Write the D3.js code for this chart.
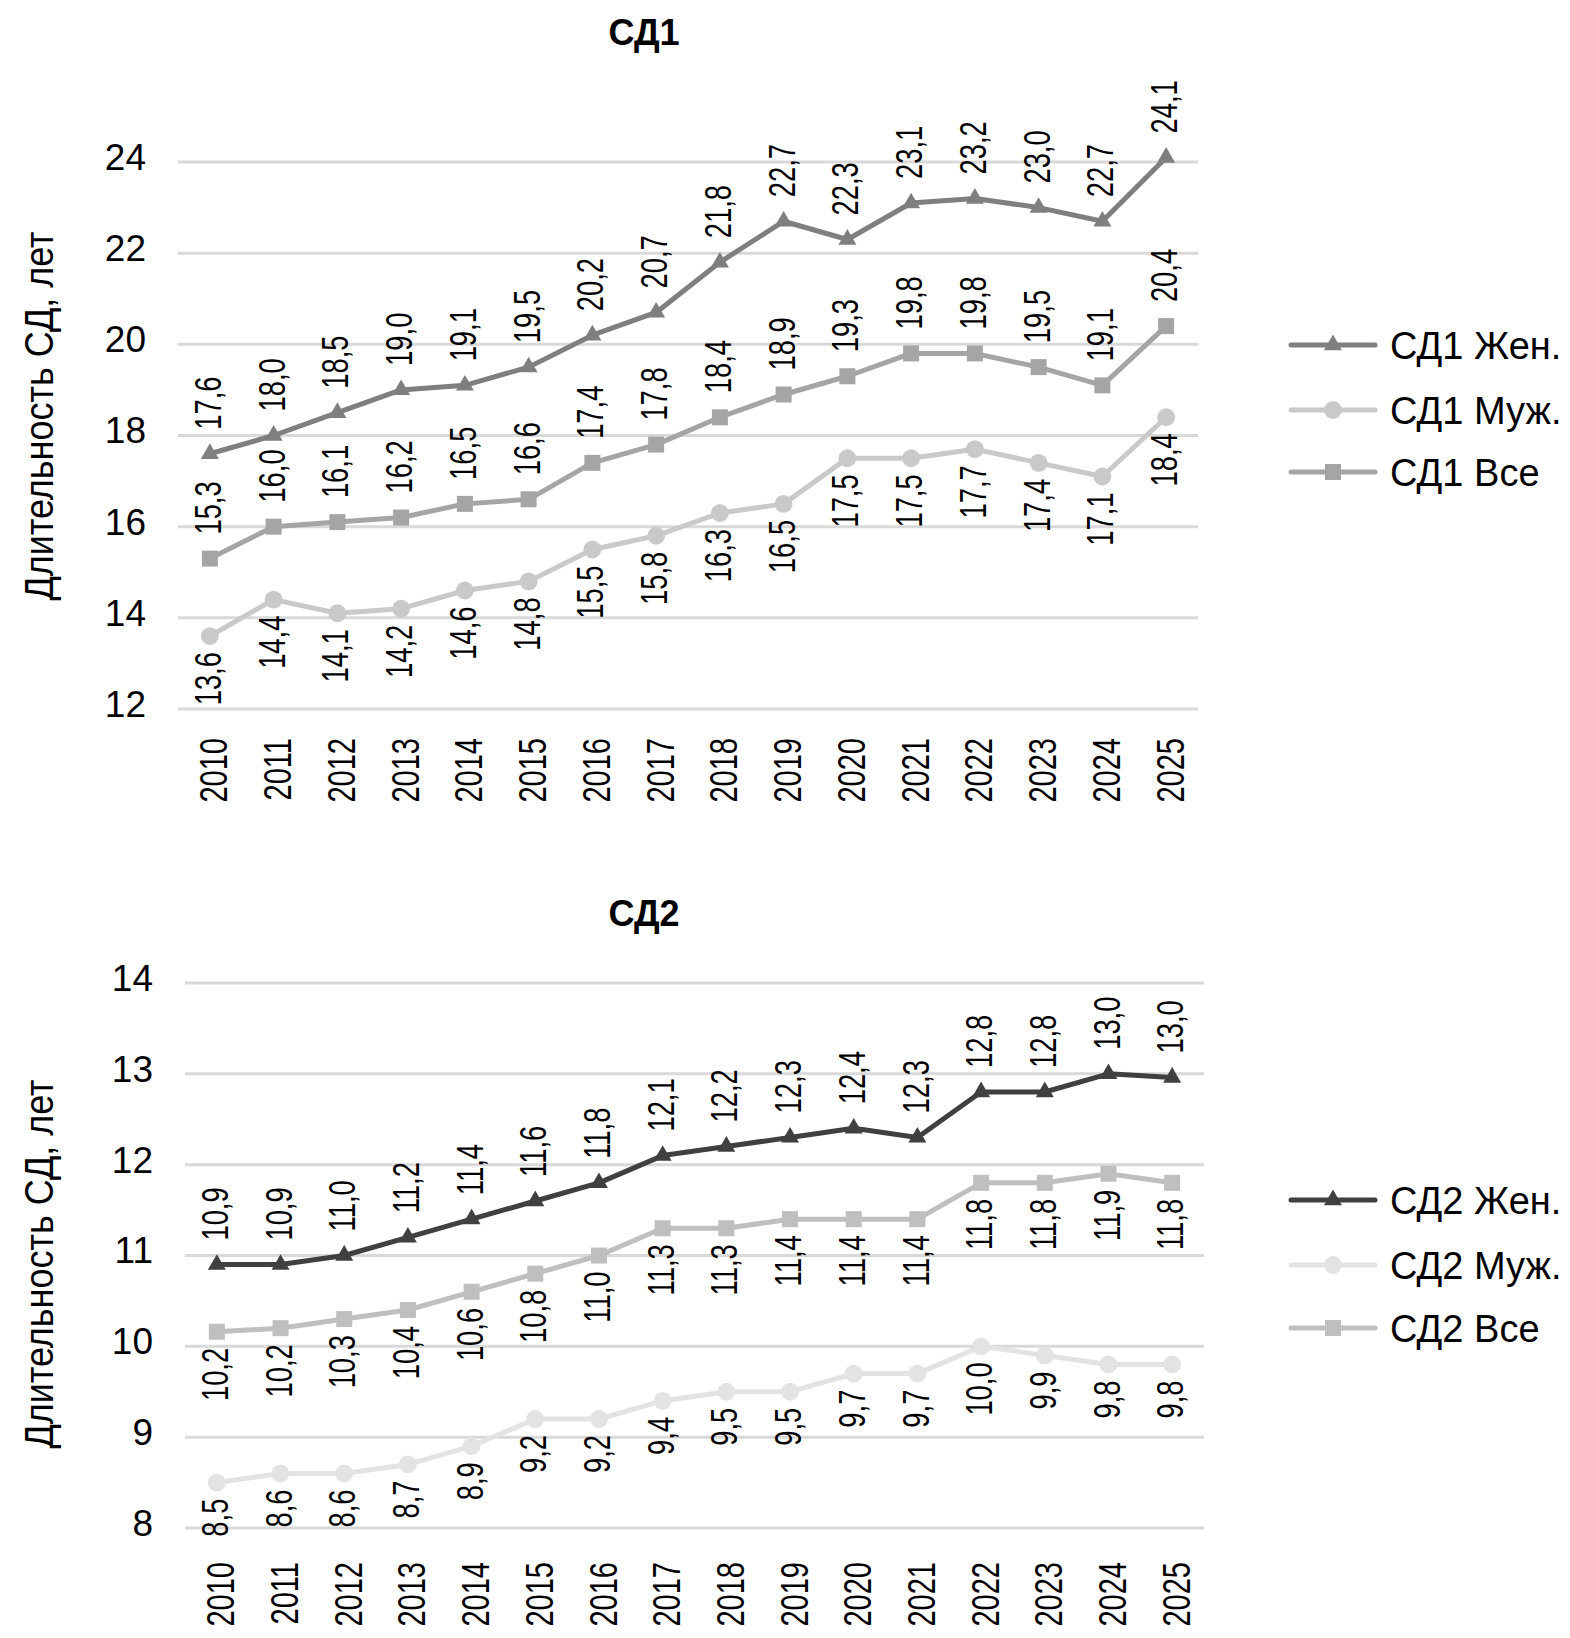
<!DOCTYPE html>
<html>
<head>
<meta charset="utf-8">
<script src="https://cdn.jsdelivr.net/npm/d3@7"></script>
<style>
  body { margin: 0; background: #fff; }
  svg text { fill: #000; }
</style>
</head>
<body>
<div id="chart"></div>
<script>
// data
const years = ["2010", "2011", "2012", "2013", "2014", "2015", "2016", "2017",
  "2018", "2019", "2020", "2021", "2022", "2023", "2024", "2025"];

const sd1Female = [17.6, 18.0, 18.5, 19.0, 19.1, 19.5, 20.2, 20.7, 21.8, 22.7, 22.3, 23.1, 23.2, 23.0, 22.7, 24.1];
const sd1Male = [13.6, 14.4, 14.1, 14.2, 14.6, 14.8, 15.5, 15.8, 16.3, 16.5, 17.5, 17.5, 17.7, 17.4, 17.1, 18.4];
const sd1All = [15.3, 16.0, 16.1, 16.2, 16.5, 16.6, 17.4, 17.8, 18.4, 18.9, 19.3, 19.8, 19.8, 19.5, 19.1, 20.4];

const sd2Female = [10.9, 10.9, 11.0, 11.2, 11.4, 11.6, 11.8, 12.1, 12.2, 12.3, 12.4, 12.3, 12.8, 12.8, 13.0, 12.96];
const sd2Male = [8.5, 8.6, 8.6, 8.7, 8.9, 9.2, 9.2, 9.4, 9.5, 9.5, 9.7, 9.7, 10.0, 9.9, 9.8, 9.8];
const sd2All = [10.16, 10.2, 10.3, 10.4, 10.6, 10.8, 11.0, 11.3, 11.3, 11.4, 11.4, 11.4, 11.8, 11.8, 11.9, 11.8];

const sd1Ticks = [12, 14, 16, 18, 20, 22, 24];
const sd2Ticks = [8, 9, 10, 11, 12, 13, 14];

const seriesNames = ["Жен.", "Муж.", "Все"];
const yTitle = "Длительность СД, лет";

const W = 1570, H = 1638;
const font = "'Liberation Sans', Arial, sans-serif";

const svg = d3.select("#chart").append("svg")
  .attr("width", W)
  .attr("height", H);

const fmt = v => d3.format(".1f")(v).replace(".", ",");

function drawChart(cfg) {
  const g = svg.append("g");

  const x = d3.scaleBand().domain(years).range(cfg.xRange);
  const cx = d => x(d) + x.bandwidth() / 2;
  const y = d3.scaleLinear().domain(cfg.yDomain).range(cfg.yRange);

  // title
  g.append("text")
    .attr("x", 644)
    .attr("y", cfg.titleY)
    .attr("text-anchor", "middle")
    .style("font-family", font)
    .style("font-weight", "bold")
    .style("font-size", "36px")
    .text(cfg.title);

  // gridlines
  g.selectAll(".grid")
    .data(cfg.ticks)
    .enter()
    .append("line")
    .attr("x1", cfg.xRange[0])
    .attr("x2", cfg.xRange[1])
    .attr("y1", d => y(d))
    .attr("y2", d => y(d))
    .attr("stroke", "#d9d9d9")
    .attr("stroke-width", 3);

  // y axis (labels only)
  const yAxis = g.append("g")
    .attr("transform", `translate(${cfg.xRange[0]},0)`)
    .call(d3.axisLeft(y).tickValues(cfg.ticks).tickSize(0).tickPadding(32).tickFormat(d3.format("d")));
  yAxis.select(".domain").remove();
  yAxis.selectAll("text")
    .style("font-family", font)
    .style("font-size", "37px")
    .attr("dy", "0.2em");

  // x axis year labels (rotated, condensed)
  g.selectAll(".year")
    .data(years)
    .enter()
    .append("text")
    .attr("transform", d => `translate(${cx(d)},${cfg.yearTop}) rotate(-90) scale(0.745,1)`)
    .attr("text-anchor", "end")
    .attr("dy", "0.45em")
    .style("font-family", font)
    .style("font-size", "39px")
    .text(d => d);

  // y title
  g.append("text")
    .attr("transform", `translate(39,${cfg.yTitleY}) rotate(-90) scale(0.9,1)`)
    .attr("text-anchor", "middle")
    .attr("dy", "0.35em")
    .style("font-family", font)
    .style("font-size", "40px")
    .text(yTitle);

  const line = d3.line()
    .x((d, i) => cx(years[i]))
    .y(d => y(d));

  cfg.series.forEach((s, k) => {
    g.append("path")
      .datum(s.values)
      .attr("d", line)
      .attr("fill", "none")
      .attr("stroke", s.color)
      .attr("stroke-width", 5)
      .attr("stroke-linejoin", "round");

    g.selectAll(".m" + k)
      .data(s.values)
      .enter()
      .append("path")
      .attr("transform", (d, i) => `translate(${cx(years[i])},${y(d)})`)
      .attr("d", d3.symbol().type(s.symbol).size(s.size))
      .attr("fill", s.color);

    // data labels
    g.selectAll(".l" + k)
      .data(s.values)
      .enter()
      .append("text")
      .attr("transform", (d, i) => {
        const off = s.above ? -24 : 16;
        return `translate(${cx(years[i])},${y(d) + off}) rotate(-90) scale(0.74,1)`;
      })
      .attr("text-anchor", s.above ? "start" : "end")
      .attr("dy", "0.3em")
      .style("font-family", font)
      .style("font-size", "37px")
      .text(d => fmt(d));

    // legend
    const ly = cfg.legendY[k];
    const lg = g.append("g").attr("transform", `translate(1291,${ly})`);
    lg.append("line")
      .attr("x1", 0).attr("x2", 84)
      .attr("stroke", s.color)
      .attr("stroke-width", 5)
      .attr("stroke-linecap", "round");
    lg.append("path")
      .attr("transform", "translate(42,0)")
      .attr("d", d3.symbol().type(s.symbol).size(s.size))
      .attr("fill", s.color);
    lg.append("text")
      .attr("x", 99)
      .attr("dy", "0.36em")
      .style("font-family", font)
      .style("font-size", "38px")
      .text(cfg.title + " " + seriesNames[k]);
  });
}

drawChart({
  title: "СД1",
  titleY: 45,
  xRange: [178, 1198],
  yDomain: [12, 24],
  yRange: [709, 162],
  ticks: sd1Ticks,
  yearTop: 738,
  yTitleY: 416,
  legendY: [345, 410, 472],
  series: [
    { values: sd1Female, color: "#7f7f7f", symbol: d3.symbolTriangle, size: 140, above: true },
    { values: sd1Male, color: "#c9c9c9", symbol: d3.symbolCircle, size: 250, above: false },
    { values: sd1All, color: "#a5a5a5", symbol: d3.symbolSquare, size: 256, above: true }
  ]
});

drawChart({
  title: "СД2",
  titleY: 926,
  xRange: [185, 1204],
  yDomain: [8, 14],
  yRange: [1528, 983],
  ticks: sd2Ticks,
  yearTop: 1562,
  yTitleY: 1264,
  legendY: [1200, 1265, 1328],
  series: [
    { values: sd2Female, color: "#404040", symbol: d3.symbolTriangle, size: 140, above: true },
    { values: sd2Male, color: "#e3e3e3", symbol: d3.symbolCircle, size: 250, above: false },
    { values: sd2All, color: "#bfbfbf", symbol: d3.symbolSquare, size: 256, above: false }
  ]
});
</script>
</body>
</html>
